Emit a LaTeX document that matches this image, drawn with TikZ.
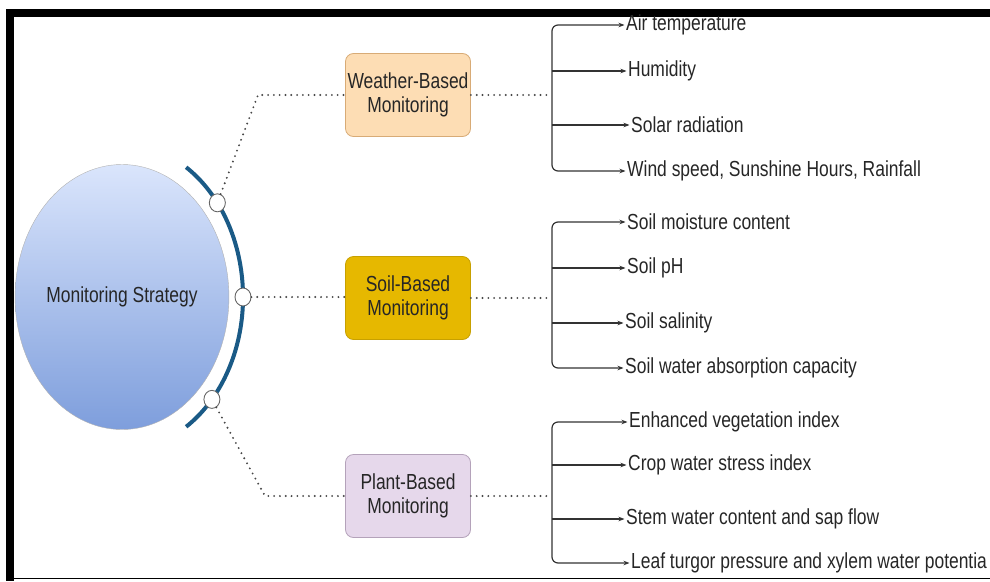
\documentclass[tikz,border=0pt]{standalone}
\usepackage{fontspec}
\setmainfont{Liberation Sans}[FakeStretch=0.8]
\usetikzlibrary{arrows.meta, shapes.geometric}

\definecolor{strattop}{HTML}{DAE5FC}
\definecolor{stratbot}{HTML}{7E9EDC}
\definecolor{ringblue}{HTML}{1A5A86}
\definecolor{weatherfill}{HTML}{FDDDB4}
\definecolor{weatherline}{HTML}{D8AB76}
\definecolor{soilfill}{HTML}{E6B800}
\definecolor{soilline}{HTML}{C7A000}
\definecolor{plantfill}{HTML}{E6D8EB}
\definecolor{plantline}{HTML}{B4A2BA}
\definecolor{inkgray}{HTML}{262626}

\begin{document}
\begin{tikzpicture}
[x=1pt, y=-1pt, font=\fontsize{21.8}{24}\selectfont, inner sep=0pt,
every node/.style={text=inkgray},
arw/.tip={Stealth[length=6pt, width=4.5pt]},
dotline/.style={draw=black!72, line width=2.1pt, dash pattern=on 0pt off 5.8pt, line cap=round},
hookline/.style={draw=black!80, line width=1.2pt, -arw, shorten >=1.5pt},
basebox/.style={draw, rounded corners=8pt, line width=0.8pt, minimum width=125pt, minimum height=83pt, align=center},
port/.style={ellipse, draw=black!60, fill=white, line width=0.9pt, minimum width=16pt, minimum height=18pt}
]
\useasboundingbox (0,0) rectangle (990,581);

% frame of the screenshot
\fill (6,9) rectangle (990,17);
\fill (6,9) rectangle (14,581);
\draw[line width=1.5pt] (14,578.5) -- (990,578.5);

% strategy and ring
\node[ellipse, draw=black!30, top color=strattop, bottom color=stratbot,
  minimum width=213pt, minimum height=265pt] (MS) at (122,297) {Monitoring Strategy};

\path
(MS.center) ++(-58:121 and 153) coordinate (r0)
(MS.center) ++(-38:121 and 153) coordinate (p1)
(MS.center) ++(0:121 and 153) coordinate (p2)
(MS.center) ++(42:121 and 153) coordinate (p3)
;
\draw[ringblue, line width=4pt] (r0) arc[start angle=58, end angle=-58, x radius=121pt, y radius=153pt];
\path foreach \i in {1,2,3} {(p\i) node[port] (O\i) {}};

% monitoring boxes
\node[basebox, fill=weatherfill, draw=weatherline] (WB) at (408,95) {Weather-Based\\Monitoring};
\node[basebox, fill=soilfill, draw=soilline] (SB) at (408,298) {Soil-Based\\Monitoring};
\node[basebox, fill=plantfill, draw=plantline] (PB) at (408,496) {Plant-Based\\Monitoring};

\path (258,95) coordinate (k1) (265,496) coordinate (k3);
\draw[dotline] (O1) -- (k1) -- (WB.west);
\draw[dotline] (O2) -- (O2 -| SB.west);
\draw[dotline] (O3) -- (k3) -- (PB.west);

% item labels
\path (552,95) coordinate (bw) (552,298) coordinate (bs) (552,496) coordinate (bp);
\path foreach \y/\x/\t [count=\i] in
{25/626/Air temperature, 71/628/Humidity, 125/631/Solar radiation,
 171/627/{Wind speed, Sunshine Hours, Rainfall}}
{(\x,\y) node[anchor=west] (W\i) {\t}};
\path foreach \y/\x/\t [count=\i] in
{222/627/Soil moisture content, 268/627/Soil pH, 323/625/Soil salinity,
 368/625/Soil water absorption capacity}
{(\x,\y) node[anchor=west] (S\i) {\t}};
\path foreach \y/\x/\t [count=\i] in
{422/629/Enhanced vegetation index, 465/628/Crop water stress index,
 519/626/Stem water content and sap flow, 563/631/Leaf turgor pressure and xylem water potentia}
{(\x,\y) node[anchor=west] (P\i) {\t}};

% brackets
\draw[dotline] (WB.east) -- (WB.east -| bw);
\draw[hookline, arw-arw, shorten <=1.5pt, rounded corners=6pt] (W1.west) -- (W1.west -| bw) -- (W4.west -| bw) -- (W4.west);
\foreach \i in {2,3} \draw[hookline] (W\i.west -| bw) -- (W\i.west);

\draw[dotline] (SB.east) -- (SB.east -| bs);
\draw[hookline, arw-arw, shorten <=1.5pt, rounded corners=6pt] (S1.west) -- (S1.west -| bs) -- (S4.west -| bs) -- (S4.west);
\foreach \i in {2,3} \draw[hookline] (S\i.west -| bs) -- (S\i.west);

\draw[dotline] (PB.east) -- (PB.east -| bp);
\draw[hookline, arw-arw, shorten <=1.5pt, rounded corners=6pt] (P1.west) -- (P1.west -| bp) -- (P4.west -| bp) -- (P4.west);
\foreach \i in {2,3} \draw[hookline] (P\i.west -| bp) -- (P\i.west);

\end{tikzpicture}
\end{document}
